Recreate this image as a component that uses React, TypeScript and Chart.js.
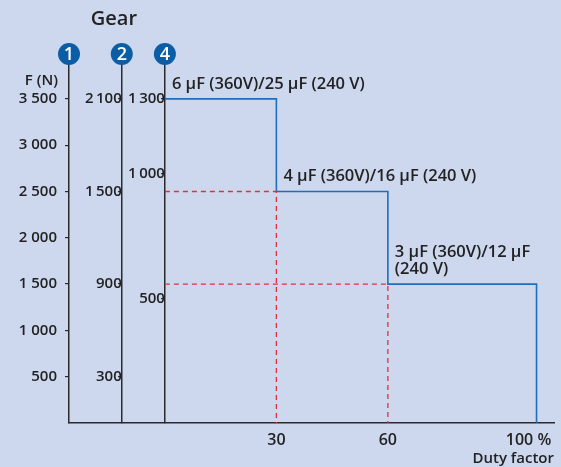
import React, { useEffect, useRef } from "react";
import { Chart, registerables } from "chart.js";
Chart.register(...registerables);

// ---- data ----
const dutyFactor = [0, 30, 30, 60, 60, 100, 100];
const forceN = [3500, 3500, 2500, 2500, 1500, 1500, 0];
const guide1X = [0, 30, 30];
const guide1Y = [2500, 2500, 0];
const guide2X = [0, 60, 60];
const guide2Y = [1500, 1500, 0];
const forceTicks = [500, 1000, 1500, 2000, 2500, 3000, 3500];
const gear2Ticks = [300, 900, 1500, 2100];
const gear4Ticks = [500, 1000, 1300];
const dutyTicks = [30, 60, 100];
const dutyTickLabels = ["30", "60", "100 %\u2003"];
const gearNames = ["1", "2", "4"];
const gear2Max = 2100; // corresponds to 3500 N
const gear4Max = 1300; // corresponds to 3500 N
const forceRef = 3500;
const gear2AxisAt = -11.6;
const gear4AxisAt = 0;
const capacitorLabels = [
  ["6 µF (360V)/25 µF (240 V)"],
  ["4 µF (360V)/16 µF (240 V)"],
  ["3 µF (360V)/12 µF", "(240 V)"],
];
const capacitorAnchorX = [0, 30, 60];
const capacitorAnchorY = [3500, 2500, 1500];

// ---- style ----
const BG = "#cdd8ee";
const TXT = "#222222";
const AXIS = "#2a2a2a";
const BLUE = "#1f6dbb";
const RED = "#e0303e";
const CIRCLE = "#0b5ea6";
const FONT = "'Open Sans', 'Noto Sans', sans-serif";

const X_MIN = -25.8;
const X_MAX = 104.7;
const Y_MAX = 3920;

const fmt = (sep: string) => (v: number) =>
  v >= 1000 ? Math.floor(v / 1000) + sep + String(v % 1000).padStart(3, "0") : String(v);

const toPts = (xs: number[], ys: number[]) => xs.map((x, i) => ({ x, y: ys[i] }));

const decor = {
  id: "decor",
  beforeDraw(chart: any) {
    const { ctx, width, height } = chart;
    ctx.save();
    ctx.fillStyle = BG;
    ctx.fillRect(0, 0, width, height);
    ctx.restore();
  },
  afterDraw(chart: any) {
    const { ctx, scales, chartArea } = chart;
    const xs = scales.x;
    const ys = scales.y;
    const axesPx = [chartArea.left, xs.getPixelForValue(gear2AxisAt), xs.getPixelForValue(gear4AxisAt)];
    ctx.save();
    // Gear title
    ctx.fillStyle = TXT;
    ctx.font = `600 20px ${FONT}`;
    ctx.textAlign = "center";
    ctx.textBaseline = "middle";
    ctx.fillText("Gear", (axesPx[0] + axesPx[2]) / 2 - 3, 19);
    // circles
    const cy = chartArea.top - 6;
    axesPx.forEach((px, i) => {
      ctx.beginPath();
      ctx.arc(px, cy, 11, 0, Math.PI * 2);
      ctx.fillStyle = CIRCLE;
      ctx.fill();
      ctx.fillStyle = "#ffffff";
      ctx.font = `600 18px ${FONT}`;
      ctx.textAlign = "center";
      ctx.textBaseline = "middle";
      ctx.fillText(gearNames[i], px, cy + 1);
    });
    // F (N)
    ctx.fillStyle = TXT;
    ctx.font = `600 15px ${FONT}`;
    ctx.textAlign = "right";
    ctx.textBaseline = "middle";
    ctx.fillText("F (N)", chartArea.left - 11, ys.getPixelForValue(forceRef) - 18);
    // capacitor labels
    ctx.font = `600 16.5px ${FONT}`;
    ctx.textAlign = "left";
    capacitorLabels.forEach((lines, i) => {
      const lx = xs.getPixelForValue(capacitorAnchorX[i]) + 7;
      const ly = ys.getPixelForValue(capacitorAnchorY[i]) - 15;
      lines.forEach((t, j) => {
        ctx.fillText(t, lx, ly - (lines.length - 1 - j) * 17);
      });
    });
    ctx.restore();
  },
};

const tickFont = { family: FONT, size: 15, weight: 600 as any };

export default function App() {
  const ref = useRef<HTMLCanvasElement>(null);
  useEffect(() => {
    document.body.style.margin = "0";
    const c = new Chart(ref.current!, {
      type: "scatter",
      data: {
        datasets: [
          {
            data: toPts(guide1X, guide1Y),
            showLine: true,
            borderColor: RED,
            borderWidth: 1.3,
            borderDash: [5, 4],
            pointRadius: 0,
            fill: false,
          },
          {
            data: toPts(guide2X, guide2Y),
            showLine: true,
            borderColor: RED,
            borderWidth: 1.3,
            borderDash: [5, 4],
            pointRadius: 0,
            fill: false,
          },
          {
            data: toPts(dutyFactor, forceN),
            showLine: true,
            borderColor: BLUE,
            borderWidth: 1.6,
            pointRadius: 0,
            fill: false,
          },
        ],
      },
      options: {
        animation: false,
        responsive: false,
        layout: { padding: { left: 0, top: 60, right: 7, bottom: 0 } },
        plugins: { legend: { display: false }, tooltip: { enabled: false } },
        scales: {
          x: {
            type: "linear",
            min: X_MIN,
            max: X_MAX,
            afterBuildTicks: (s: any) => {
              s.ticks = dutyTicks.map((v) => ({ value: v }));
            },
            afterFit: (s: any) => {
              s.height = 44;
              s.paddingLeft = 0;
              s.paddingRight = 0;
            },
            grid: { display: false, drawTicks: false },
            border: { display: true, color: AXIS, width: 1.5 },
            ticks: {
              color: TXT,
              font: { family: FONT, size: 16, weight: 600 as any },
              padding: 8,
              maxRotation: 0,
              autoSkip: false,
              callback: (v: any) => dutyTickLabels[dutyTicks.indexOf(Number(v))] ?? "",
            },
            title: {
              display: true,
              text: "Duty factor",
              align: "end",
              color: TXT,
              font: { family: FONT, size: 15, weight: 600 as any },
              padding: { top: 0, bottom: -1 },
            },
          },
          y: {
            type: "linear",
            position: "left",
            min: 0,
            max: Y_MAX,
            afterBuildTicks: (s: any) => {
              s.ticks = forceTicks.map((v) => ({ value: v }));
            },
            afterFit: (s: any) => {
              s.width = 69;
              s.paddingTop = 0;
              s.paddingBottom = 0;
            },
            grid: { display: true, drawOnChartArea: false, drawTicks: true, tickLength: 4, color: AXIS, lineWidth: 1.2 },
            border: { display: true, color: AXIS, width: 1.5 },
            ticks: { color: TXT, font: tickFont, padding: 8, callback: (v: any) => fmt(" ")(Number(v)) },
          },
          y2: {
            type: "linear",
            position: { x: gear2AxisAt } as any,
            min: 0,
            max: (Y_MAX * gear2Max) / forceRef,
            afterBuildTicks: (s: any) => {
              s.ticks = gear2Ticks.map((v) => ({ value: v }));
            },
            grid: { display: true, drawOnChartArea: false, drawTicks: true, tickLength: 3, color: AXIS, lineWidth: 1.2 },
            border: { display: true, color: AXIS, width: 1.5 },
            ticks: { color: TXT, font: tickFont, padding: 6, callback: (v: any) => fmt("\u2009")(Number(v)) },
          },
          y4: {
            type: "linear",
            position: { x: gear4AxisAt } as any,
            min: 0,
            max: (Y_MAX * gear4Max) / forceRef,
            afterBuildTicks: (s: any) => {
              s.ticks = gear4Ticks.map((v) => ({ value: v }));
            },
            grid: { display: true, drawOnChartArea: false, drawTicks: true, tickLength: 3, color: AXIS, lineWidth: 1.2 },
            border: { display: true, color: AXIS, width: 1.5 },
            ticks: { color: TXT, font: tickFont, padding: 3, callback: (v: any) => fmt("\u2009")(Number(v)) },
          },
        },
      },
      plugins: [decor],
    });
    return () => c.destroy();
  }, []);
  return (
    <div style={{ width: 561, height: 467 }}>
      <canvas ref={ref} width={561} height={467} style={{ display: "block", width: 561, height: 467 }} />
    </div>
  );
}
